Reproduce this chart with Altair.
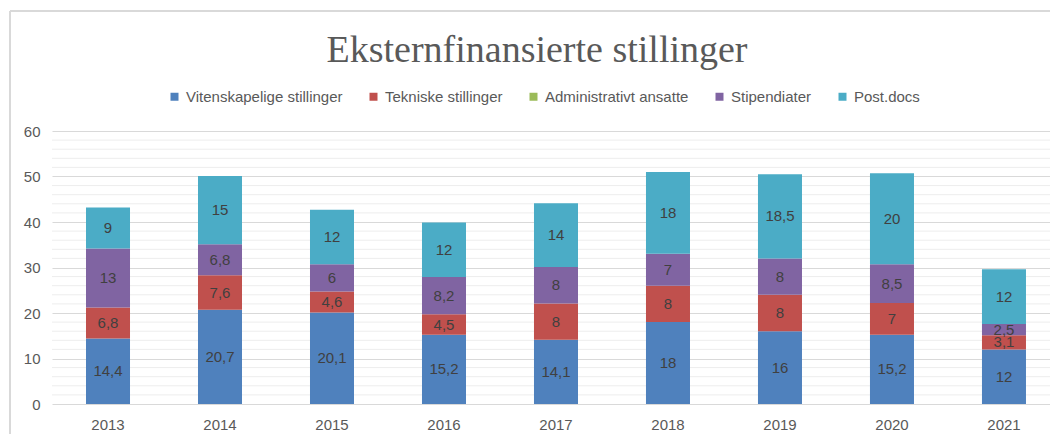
import altair as alt
import pandas as pd

years = ["2013", "2014", "2015", "2016", "2017", "2018", "2019", "2020", "2021"]
series = ["Vitenskapelige stillinger", "Tekniske stillinger", "Administrativt ansatte",
          "Stipendiater", "Post.docs"]
colors = ["#4F81BD", "#C0504D", "#9BBB59", "#8064A2", "#4BACC6"]

vitenskapelige = [14.4, 20.7, 20.1, 15.2, 14.1, 18, 16, 15.2, 12]
tekniske = [6.8, 7.6, 4.6, 4.5, 8, 8, 8, 7, 3.1]
administrativt = [0, 0, 0, 0, 0, 0, 0, 0, 0]
stipendiater = [13, 6.8, 6, 8.2, 8, 7, 8, 8.5, 2.5]
postdocs = [9, 15, 12, 12, 14, 18, 18.5, 20, 12]

y_ticks = [0, 10, 20, 30, 40, 50, 60]
minor_grid = [2, 4, 6, 8, 12, 14, 16, 18, 22, 24, 26, 28, 32, 34, 36, 38,
              42, 44, 46, 48, 52, 54, 56, 58]

values = [vitenskapelige, tekniske, administrativt, stipendiater, postdocs]

rows = []
for si, (name, vals) in enumerate(zip(series, values)):
    for y, v in zip(years, vals):
        rows.append({"year": y, "series": name, "idx": si, "value": v,
                     "label": f"{v:g}".replace(".", ",")})
df = pd.DataFrame(rows)

FONT = "Liberation Sans"
GREY = "#595959"

y_scale = alt.Scale(domain=[0, 60], nice=False)
y_axis = alt.Axis(title=None, values=y_ticks, gridColor="#d9d9d9", ticks=False,
                  domain=False, labelPadding=12, labelFontSize=15,
                  labelColor=GREY, labelFont=FONT)
x_enc = alt.X("year:N", sort=years,
              scale=alt.Scale(paddingInner=0.607, paddingOuter=0.259, align=0.586),
              axis=alt.Axis(title=None, labelAngle=0, ticks=False, domain=False,
                            labelPadding=13, labelFontSize=15, labelColor=GREY,
                            labelFont=FONT))

minor = alt.Chart(pd.DataFrame({"g": minor_grid})).mark_rule(
    color="#ededed", strokeWidth=1
).encode(y=alt.Y("g:Q", scale=y_scale, axis=y_axis))

base = alt.Chart(df)

bars = base.mark_bar().encode(
    x=x_enc,
    y=alt.Y("value:Q", stack="zero", scale=y_scale, axis=y_axis),
    color=alt.Color("series:N",
                    scale=alt.Scale(domain=series, range=colors),
                    legend=alt.Legend(title=None, orient="none", legendX=115, legendY=-42,
                                      direction="horizontal", symbolType="square",
                                      symbolSize=64, symbolStrokeWidth=0,
                                      labelFont=FONT, labelFontSize=15, labelColor=GREY,
                                      columnPadding=23, labelOffset=4, padding=0)),
    order=alt.Order("idx:Q", sort="ascending"),
)

text = base.transform_filter("datum.value > 0").transform_stack(
    stack="value", groupby=["year"],
    sort=[alt.SortField("idx", order="ascending")], as_=["y0", "y1"]
).transform_calculate(mid="(datum.y0 + datum.y1) / 2").mark_text(
    font=FONT, fontSize=15, color="#404040"
).encode(
    x=x_enc,
    y=alt.Y("mid:Q", scale=y_scale, axis=y_axis),
    text="label:N",
)

# chart-area frame (left and top edges)
frame_left = alt.Chart(pd.DataFrame({"k": [0]})).mark_rule(
    color="#d9d9d9", strokeWidth=2
).encode(x=alt.value(-42), y=alt.value(-120), y2=alt.value(320))
frame_top = alt.Chart(pd.DataFrame({"k": [0]})).mark_rule(
    color="#d9d9d9", strokeWidth=2
).encode(x=alt.value(-42), x2=alt.value(1010), y=alt.value(-120))

chart = alt.layer(minor, bars, text, frame_left, frame_top).properties(
    width=998, height=273,
    title=alt.TitleParams("Eksternfinansierte stillinger", font="Liberation Serif",
                          fontSize=38, fontWeight="normal", color=GREY,
                          anchor="middle", dx=-14, offset=-60),
    autosize=alt.AutoSizeParams(type="none"),
    padding={"left": 44, "top": 123, "right": 0, "bottom": 30},
).configure_view(stroke=None)

chart.save("out.html", embed_options={"renderer": "svg", "actions": False})
